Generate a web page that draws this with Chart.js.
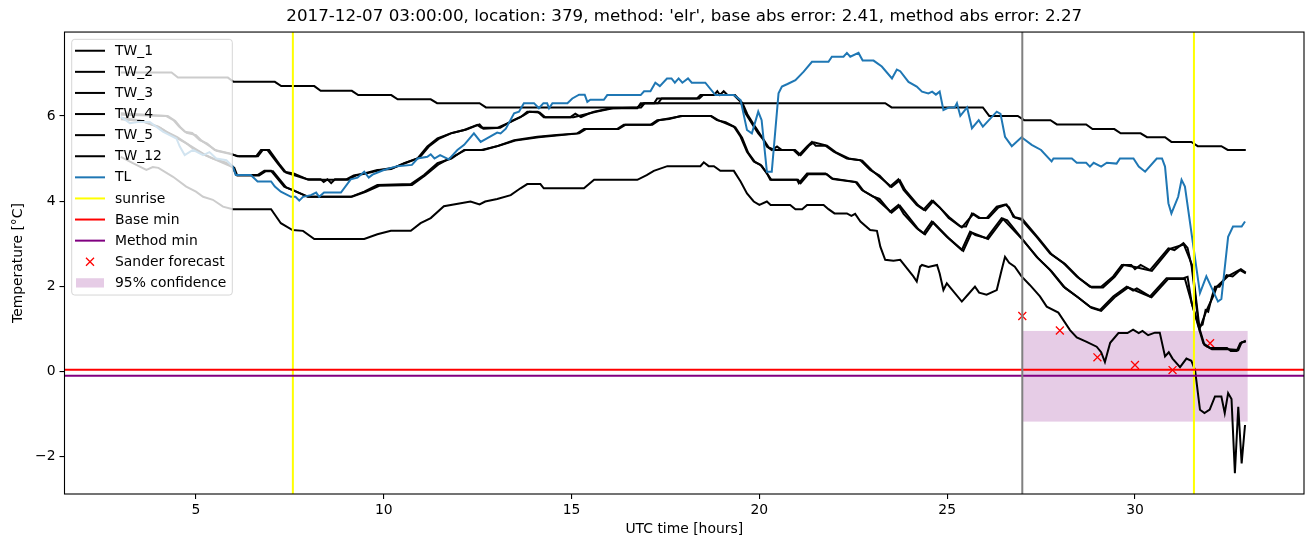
<!DOCTYPE html>
<html>
<head>
<meta charset="utf-8">
<script src="https://cdn.jsdelivr.net/npm/chart.js@4.4.1/dist/chart.umd.min.js"></script>
<style>
  html, body { margin: 0; padding: 0; background: #fff; }
  #wrap { width: 1313px; height: 547px; }
</style>
</head>
<body>
<div id="wrap"><canvas id="tempChart" width="1313" height="547"></canvas></div>
<script>
// Temperature forecast chart

// Axes
const xRange = [1.5, 34.5];
const yRange = [-2.88, 7.97];
const xTicks = [5, 10, 15, 20, 25, 30];
const yTicks = [-2, 0, 2, 4, 6];

// TW_1 / TW_2 (upper middle pair)
const tw1Hours = [3.0, 4.2, 4.4, 4.55, 4.7, 4.9, 5.1, 5.3, 5.5, 5.9, 6.1, 6.6, 6.73, 6.9, 7.17, 7.35, 7.6, 7.97, 8.32, 8.4, 8.5, 8.6, 8.7, 9.0, 9.2, 9.48, 9.83, 10.2, 10.54, 10.9, 11.16, 11.43, 11.78, 12.14, 12.49, 12.6, 13.02, 13.38, 13.64, 13.82, 14.1, 14.26, 14.97, 15.1, 15.25, 15.45, 15.6, 16.04, 16.75, 16.84, 17.2, 17.28, 18.34, 18.43, 18.79, 18.88, 18.95, 19.05, 19.15, 19.32, 19.5, 19.63, 19.85, 19.97, 20.1, 20.2, 20.33, 20.47, 20.6, 20.91, 21.05, 21.27, 21.4, 21.5, 21.76, 21.98, 22.33, 22.69, 22.95, 23.2, 23.48, 23.7, 23.84, 24.19, 24.37, 24.59, 24.8, 25.04, 25.35, 25.5, 25.66, 25.84, 26.05, 26.32, 26.54, 26.65, 26.76, 26.98, 27.38, 27.74, 28.1, 28.45, 28.8, 29.1, 29.42, 29.65, 29.9, 30.0, 30.15, 30.4, 30.89, 31.05, 31.29, 31.4, 31.51, 31.6, 31.7, 31.8, 31.88, 31.95, 32.05, 32.13, 32.25, 32.44, 32.6, 32.8, 32.95];
const tw1Temps = [6.06, 6.0, 5.9, 5.75, 5.63, 5.6, 5.43, 5.35, 5.2, 5.12, 5.05, 5.05, 5.2, 5.2, 4.89, 4.69, 4.65, 4.51, 4.51, 4.45, 4.51, 4.42, 4.51, 4.51, 4.6, 4.65, 4.73, 4.75, 4.89, 5.0, 5.28, 5.47, 5.59, 5.67, 5.79, 5.72, 5.72, 5.86, 5.97, 6.1, 6.1, 5.97, 5.97, 6.05, 5.97, 6.05, 6.1, 6.18, 6.18, 6.3, 6.3, 6.41, 6.41, 6.49, 6.49, 6.58, 6.49, 6.58, 6.49, 6.49, 6.33, 6.06, 5.75, 5.59, 5.45, 5.28, 5.2, 5.28, 5.2, 5.2, 5.08, 5.28, 5.39, 5.3, 5.3, 5.16, 5.0, 4.96, 4.73, 4.6, 4.34, 4.51, 4.26, 3.91, 3.8, 4.01, 3.85, 3.6, 3.4, 3.4, 3.71, 3.6, 3.6, 3.87, 3.92, 3.85, 3.63, 3.56, 3.16, 2.77, 2.54, 2.23, 1.99, 1.99, 2.23, 2.5, 2.5, 2.4, 2.5, 2.38, 2.89, 2.85, 3.01, 2.9, 2.46, 1.8, 1.05, 1.1, 1.44, 1.4, 1.76, 1.99, 1.99, 2.26, 2.23, 2.38, 2.3];
const tw2Hours = [3.0, 4.25, 4.45, 4.6, 4.75, 5.0, 5.15, 5.55, 5.95, 6.15, 6.65, 6.78, 6.95, 7.22, 7.4, 8.0, 8.35, 8.55, 9.05, 9.25, 9.55, 9.9, 10.25, 10.6, 10.95, 11.2, 11.48, 11.82, 12.2, 12.55, 12.65, 13.1, 13.45, 13.7, 13.88, 14.15, 14.3, 15.05, 15.65, 16.1, 16.85, 16.95, 17.3, 17.4, 18.4, 18.5, 19.35, 19.55, 19.68, 19.9, 20.02, 20.25, 20.4, 20.95, 21.1, 21.32, 21.45, 21.8, 22.03, 22.38, 22.74, 23.0, 23.52, 23.74, 23.88, 24.23, 24.42, 24.63, 25.08, 25.39, 25.7, 25.88, 26.1, 26.36, 26.58, 26.8, 27.0, 27.42, 27.78, 28.14, 28.5, 28.85, 29.15, 29.46, 29.7, 30.0, 30.45, 30.93, 31.3, 31.52, 31.72, 31.9, 32.1, 32.18, 32.48, 32.82, 32.95];
const tw2Temps = [6.03, 6.0, 5.88, 5.72, 5.6, 5.55, 5.42, 5.18, 5.1, 5.05, 5.05, 5.2, 5.2, 4.87, 4.67, 4.5, 4.5, 4.5, 4.5, 4.6, 4.65, 4.73, 4.78, 4.9, 5.02, 5.28, 5.47, 5.6, 5.68, 5.8, 5.7, 5.72, 5.9, 6.0, 6.1, 6.08, 5.97, 5.97, 6.1, 6.18, 6.2, 6.3, 6.3, 6.41, 6.41, 6.49, 6.49, 6.3, 6.04, 5.73, 5.57, 5.26, 5.2, 5.2, 5.08, 5.3, 5.38, 5.3, 5.15, 5.0, 4.95, 4.72, 4.33, 4.49, 4.26, 3.9, 3.78, 4.0, 3.6, 3.38, 3.7, 3.6, 3.6, 3.85, 3.92, 3.62, 3.58, 3.14, 2.75, 2.52, 2.2, 1.97, 1.97, 2.22, 2.5, 2.45, 2.36, 2.88, 2.98, 2.5, 1.0, 1.42, 1.8, 1.99, 2.24, 2.4, 2.32];

// TW_3 / TW_4 (lower middle pair)
const tw3Hours = [3.0, 3.5, 4.0, 4.21, 4.5, 4.74, 4.9, 5.2, 5.45, 5.8, 5.98, 6.07, 6.64, 6.82, 7.0, 7.35, 7.6, 7.97, 9.12, 9.48, 9.83, 10.72, 11.07, 11.43, 11.8, 12.14, 12.6, 13.02, 13.47, 14.09, 14.6, 15.15, 15.33, 16.21, 16.39, 17.1, 17.28, 17.6, 17.9, 18.7, 18.87, 19.1, 19.32, 19.5, 19.67, 19.85, 20.03, 20.2, 20.29, 21.0, 21.05, 21.27, 21.76, 21.93, 22.33, 22.56, 22.73, 23.04, 23.2, 23.48, 23.7, 23.84, 24.19, 24.37, 24.59, 24.99, 25.39, 25.61, 25.75, 26.05, 26.45, 26.6, 26.98, 27.38, 27.74, 28.1, 28.45, 28.8, 29.07, 29.42, 29.78, 29.95, 30.05, 30.4, 30.84, 31.29, 31.4, 31.51, 31.69, 31.82, 32.0, 32.45, 32.55, 32.71, 32.8, 32.95];
const tw3Temps = [5.95, 5.9, 5.75, 5.63, 5.5, 5.36, 5.25, 5.1, 5.0, 4.9, 4.81, 4.61, 4.61, 4.71, 4.71, 4.34, 4.25, 4.1, 4.1, 4.22, 4.38, 4.4, 4.61, 4.89, 5.0, 5.2, 5.2, 5.29, 5.43, 5.51, 5.55, 5.59, 5.69, 5.69, 5.79, 5.79, 5.9, 5.93, 6.0, 6.0, 5.9, 5.85, 5.75, 5.51, 5.16, 4.93, 4.85, 4.65, 4.5, 4.5, 4.42, 4.65, 4.65, 4.53, 4.48, 4.45, 4.26, 4.1, 4.05, 3.75, 3.91, 3.7, 3.36, 3.24, 3.52, 3.16, 2.85, 3.28, 3.2, 3.13, 3.6, 3.55, 3.13, 2.69, 2.38, 1.99, 1.76, 1.52, 1.44, 1.76, 1.99, 1.9, 1.95, 1.76, 2.19, 2.19, 2.22, 1.6, 1.05, 0.66, 0.55, 0.55, 0.48, 0.48, 0.66, 0.72];
const tw4Hours = [3.0, 3.55, 4.05, 4.25, 4.78, 5.25, 5.5, 6.02, 6.1, 6.68, 6.86, 7.05, 7.4, 8.0, 9.15, 9.52, 9.88, 10.75, 11.1, 11.47, 12.18, 12.65, 13.06, 13.5, 14.12, 15.2, 15.38, 16.25, 16.43, 17.15, 17.33, 17.95, 18.72, 18.9, 19.36, 19.54, 19.7, 19.88, 20.06, 20.32, 21.03, 21.1, 21.3, 21.8, 21.96, 22.6, 22.77, 23.08, 23.52, 23.74, 24.23, 24.41, 24.63, 25.03, 25.43, 25.65, 26.09, 26.49, 27.0, 27.42, 27.78, 28.14, 28.5, 28.84, 29.1, 29.46, 29.82, 30.44, 30.88, 31.33, 31.53, 31.72, 31.85, 32.05, 32.5, 32.75, 32.84, 32.95];
const tw4Temps = [5.92, 5.88, 5.72, 5.6, 5.34, 5.08, 4.98, 4.78, 4.6, 4.6, 4.7, 4.7, 4.32, 4.1, 4.1, 4.22, 4.36, 4.38, 4.6, 4.87, 5.2, 5.2, 5.3, 5.42, 5.5, 5.59, 5.69, 5.69, 5.79, 5.79, 5.9, 6.0, 6.0, 5.9, 5.73, 5.49, 5.14, 4.92, 4.83, 4.5, 4.5, 4.42, 4.63, 4.63, 4.52, 4.44, 4.24, 4.08, 3.73, 3.89, 3.34, 3.22, 3.5, 3.14, 2.83, 3.26, 3.11, 3.58, 3.1, 2.66, 2.35, 1.96, 1.73, 1.49, 1.42, 1.74, 1.97, 1.74, 2.17, 2.17, 1.55, 1.0, 0.62, 0.52, 0.52, 0.5, 0.68, 0.7];

// TW_5 (lowest)
const tw5Hours = [3.0, 3.32, 3.68, 3.85, 4.0, 4.39, 4.74, 5.0, 5.19, 5.45, 5.72, 5.98, 7.0, 7.26, 7.57, 7.85, 8.15, 9.48, 9.83, 10.19, 10.72, 10.98, 11.25, 11.6, 12.31, 12.55, 12.7, 13.02, 13.38, 13.64, 13.82, 14.17, 14.26, 15.33, 15.6, 16.75, 17.0, 17.19, 17.55, 18.43, 18.52, 18.65, 18.79, 18.96, 19.32, 19.5, 19.67, 19.85, 20.0, 20.2, 20.3, 20.82, 20.96, 21.14, 21.27, 21.71, 21.84, 22.0, 22.33, 22.45, 22.55, 22.69, 22.95, 23.13, 23.22, 23.35, 23.57, 23.75, 24.1, 24.19, 24.28, 24.33, 24.5, 24.73, 24.8, 24.9, 24.99, 25.39, 25.55, 25.74, 25.85, 26.05, 26.32, 26.45, 26.54, 26.65, 26.8, 26.98, 27.2, 27.47, 27.65, 27.96, 28.27, 28.45, 28.7, 28.98, 29.1, 29.2, 29.27, 29.34, 29.56, 29.8, 29.95, 30.1, 30.2, 30.35, 30.53, 30.66, 30.8, 30.9, 31.0, 31.2, 31.37, 31.5, 31.6, 31.73, 31.85, 31.99, 32.13, 32.3, 32.39, 32.48, 32.57, 32.66, 32.75, 32.84, 32.93];
const tw5Temps = [5.04, 4.89, 4.73, 4.8, 4.78, 4.57, 4.34, 4.22, 4.1, 4.03, 3.87, 3.81, 3.81, 3.48, 3.32, 3.3, 3.11, 3.11, 3.22, 3.3, 3.3, 3.48, 3.6, 3.88, 3.99, 3.92, 3.99, 4.05, 4.14, 4.3, 4.4, 4.4, 4.3, 4.3, 4.5, 4.5, 4.61, 4.71, 4.82, 4.82, 4.91, 4.82, 4.82, 4.71, 4.71, 4.46, 4.18, 3.99, 3.91, 3.99, 3.91, 3.91, 3.81, 3.81, 3.91, 3.91, 3.81, 3.71, 3.71, 3.65, 3.7, 3.52, 3.32, 3.3, 2.93, 2.62, 2.6, 2.62, 2.23, 2.11, 2.46, 2.5, 2.45, 2.5, 2.3, 1.91, 2.07, 1.64, 1.8, 1.99, 1.85, 1.8, 1.91, 2.38, 2.69, 2.55, 2.46, 2.23, 2.03, 1.76, 1.52, 1.38, 0.97, 0.8, 0.7, 0.58, 0.45, 0.22, 0.45, 0.67, 0.9, 0.9, 0.98, 0.9, 0.95, 0.85, 0.91, 0.91, 0.35, 0.45, 0.3, 0.1, 0.3, 0.25, 0.03, -0.9, -0.98, -0.9, -0.59, -0.59, -0.98, -0.51, -0.65, -2.39, -0.83, -2.16, -1.26];

// TW_12 (slow, top)
const tw12Hours = [3.0, 4.35, 4.52, 5.85, 6.0, 7.1, 7.27, 8.15, 8.32, 9.15, 9.32, 10.2, 10.37, 11.25, 11.42, 12.55, 12.72, 16.75, 16.92, 23.35, 23.52, 25.95, 26.12, 26.88, 27.05, 27.75, 27.92, 28.7, 28.87, 29.45, 29.62, 30.15, 30.32, 30.8, 30.97, 31.5, 31.67, 32.3, 32.47, 32.95];
const tw12Temps = [7.02, 7.02, 6.9, 6.9, 6.8, 6.8, 6.7, 6.7, 6.59, 6.59, 6.49, 6.49, 6.39, 6.39, 6.3, 6.3, 6.2, 6.2, 6.3, 6.3, 6.2, 6.2, 6.0, 6.0, 5.9, 5.9, 5.8, 5.8, 5.69, 5.69, 5.59, 5.59, 5.5, 5.5, 5.39, 5.39, 5.29, 5.29, 5.2, 5.2];

// TL (air temperature)
const tlHours = [3.0, 3.24, 3.5, 3.77, 4.12, 4.3, 4.48, 4.57, 4.7, 4.92, 5.19, 5.36, 5.54, 5.81, 5.98, 6.06, 6.46, 6.64, 7.0, 7.1, 7.26, 7.53, 7.65, 7.75, 7.85, 8.06, 8.2, 8.28, 8.41, 8.86, 9.12, 9.3, 9.48, 9.6, 9.7, 10.0, 10.36, 10.75, 10.9, 11.16, 11.25, 11.35, 11.5, 11.73, 11.96, 12.14, 12.4, 12.58, 12.7, 13.02, 13.11, 13.25, 13.47, 13.6, 13.73, 14.0, 14.13, 14.25, 14.35, 14.4, 14.49, 14.89, 15.02, 15.2, 15.35, 15.42, 15.5, 15.86, 15.95, 16.84, 16.93, 17.1, 17.23, 17.35, 17.54, 17.66, 17.75, 17.85, 17.95, 18.1, 18.2, 18.56, 18.83, 19.32, 19.5, 19.67, 19.8, 19.97, 20.06, 20.2, 20.33, 20.51, 20.6, 20.75, 20.96, 21.18, 21.4, 21.84, 21.93, 22.24, 22.33, 22.42, 22.64, 22.75, 23.04, 23.26, 23.53, 23.66, 23.75, 23.97, 24.19, 24.33, 24.5, 24.6, 24.7, 24.8, 24.9, 25.05, 25.2, 25.26, 25.35, 25.53, 25.66, 25.84, 25.95, 26.32, 26.42, 26.54, 26.72, 26.98, 27.25, 27.5, 27.78, 27.83, 28.32, 28.45, 28.7, 28.8, 28.9, 29.1, 29.25, 29.51, 29.6, 29.96, 30.1, 30.27, 30.58, 30.72, 30.8, 30.89, 30.97, 31.15, 31.24, 31.33, 31.73, 31.9, 32.21, 32.3, 32.48, 32.61, 32.84, 32.93];
const tlTemps = [5.98, 5.83, 5.86, 5.86, 5.63, 5.55, 5.47, 5.28, 5.08, 5.2, 5.08, 5.15, 5.0, 4.96, 4.81, 4.61, 4.61, 4.46, 4.46, 4.34, 4.22, 4.1, 4.1, 4.01, 4.1, 4.14, 4.2, 4.1, 4.2, 4.2, 4.51, 4.55, 4.69, 4.55, 4.62, 4.73, 4.82, 4.85, 5.0, 5.04, 5.1, 5.0, 5.08, 4.98, 5.2, 5.32, 5.59, 5.39, 5.45, 5.61, 5.59, 5.7, 6.06, 6.1, 6.3, 6.3, 6.18, 6.3, 6.3, 6.18, 6.3, 6.3, 6.41, 6.5, 6.5, 6.33, 6.38, 6.38, 6.49, 6.49, 6.58, 6.58, 6.78, 6.7, 6.88, 6.88, 6.78, 6.88, 6.78, 6.88, 6.78, 6.78, 6.49, 6.49, 6.37, 5.67, 5.59, 6.1, 5.9, 4.69, 4.69, 6.53, 6.69, 6.75, 6.84, 7.04, 7.27, 7.27, 7.39, 7.39, 7.48, 7.39, 7.48, 7.3, 7.3, 7.16, 6.88, 7.09, 7.05, 6.8, 6.69, 6.57, 6.53, 6.57, 6.5, 6.57, 6.14, 6.2, 6.2, 6.3, 6.0, 6.2, 5.71, 5.9, 5.75, 6.1, 6.05, 5.51, 5.29, 5.5, 5.32, 5.2, 4.93, 5.0, 5.0, 4.9, 4.9, 4.81, 4.9, 4.81, 4.9, 4.88, 5.0, 5.0, 4.81, 4.69, 5.0, 5.0, 4.81, 3.95, 3.71, 4.1, 4.5, 4.34, 1.84, 2.23, 1.64, 1.7, 3.16, 3.4, 3.4, 3.52];

// Sander forecast and its 95% band
const forecastHours = [27, 28, 29, 30, 31, 32];
const forecastTemps = [1.3, 0.96, 0.33, 0.15, 0.03, 0.66];
const confidenceHours = [27, 33];
const confidenceTemps = [-1.18, 0.95];

// Reference lines
const sunriseHours = [7.58, 31.57];
const forecastStartHour = [27];
const baseMin = 0.04;
const methodMin = -0.1;

const blue = '#1f77b4';

function toPoints(hours, temps) {
    return hours.map((h, i) => ({ x: h, y: temps[i] }));
}

const twSeries = [
    { label: 'TW_1', hours: tw1Hours, temps: tw1Temps },
    { label: 'TW_2', hours: tw2Hours, temps: tw2Temps },
    { label: 'TW_3', hours: tw3Hours, temps: tw3Temps },
    { label: 'TW_4', hours: tw4Hours, temps: tw4Temps },
    { label: 'TW_5', hours: tw5Hours, temps: tw5Temps },
    { label: 'TW_12', hours: tw12Hours, temps: tw12Temps }
];

const datasets = twSeries.map(s => ({
    label: s.label,
    data: toPoints(s.hours, s.temps),
    borderColor: '#000000',
    borderWidth: 2,
    pointRadius: 0,
    tension: 0,
    order: 10
}));

datasets.push({
    label: 'TL',
    data: toPoints(tlHours, tlTemps),
    borderColor: blue,
    borderWidth: 2,
    pointRadius: 0,
    tension: 0,
    order: 5
});

datasets.push({
    label: 'Sander forecast',
    data: toPoints(forecastHours, forecastTemps),
    showLine: false,
    pointStyle: 'crossRot',
    pointRadius: 5.6,
    pointBorderColor: '#ff0000',
    pointBorderWidth: 1.3,
    borderColor: '#ff0000',
    order: 12
});

// Shaded confidence band, under the lines
const bandPlugin = {
    id: 'band',
    beforeDatasetsDraw(chart) {
        const { ctx, chartArea, scales: { x, y } } = chart;
        const x0 = x.getPixelForValue(confidenceHours[0]);
        const x1 = x.getPixelForValue(confidenceHours[1]);
        const y0 = y.getPixelForValue(confidenceTemps[1]);
        const y1 = y.getPixelForValue(confidenceTemps[0]);
        ctx.save();
        ctx.fillStyle = 'rgba(128, 0, 128, 0.2)';
        ctx.fillRect(x0, y0, x1 - x0, y1 - y0);
        ctx.restore();
    }
};

// Sunrise, minima, forecast start, and the axes frame
const refLinesPlugin = {
    id: 'refLines',
    afterDatasetsDraw(chart) {
        const { ctx, chartArea: a, scales: { x, y } } = chart;
        ctx.save();
        ctx.beginPath();
        ctx.rect(a.left, a.top, a.right - a.left, a.bottom - a.top);
        ctx.clip();

        function vline(v, color) {
            const px = x.getPixelForValue(v);
            ctx.strokeStyle = color;
            ctx.lineWidth = 2;
            ctx.beginPath();
            ctx.moveTo(px, a.top);
            ctx.lineTo(px, a.bottom);
            ctx.stroke();
        }
        function hline(v, color) {
            const py = y.getPixelForValue(v);
            ctx.strokeStyle = color;
            ctx.lineWidth = 2;
            ctx.beginPath();
            ctx.moveTo(a.left, py);
            ctx.lineTo(a.right, py);
            ctx.stroke();
        }

        sunriseHours.forEach(h => vline(h, '#ffff00'));
        hline(baseMin, '#ff0000');
        hline(methodMin, '#800080');
        forecastStartHour.forEach(h => vline(h, '#808080'));
        ctx.restore();

        // frame
        ctx.save();
        ctx.strokeStyle = '#000000';
        ctx.lineWidth = 1.1;
        ctx.strokeRect(a.left, a.top, a.right - a.left, a.bottom - a.top);
        ctx.restore();
    }
};

// Legend inside the axes, top left
const legendItems = [
    { label: 'TW_1', kind: 'line', color: '#000000' },
    { label: 'TW_2', kind: 'line', color: '#000000' },
    { label: 'TW_3', kind: 'line', color: '#000000' },
    { label: 'TW_4', kind: 'line', color: '#000000' },
    { label: 'TW_5', kind: 'line', color: '#000000' },
    { label: 'TW_12', kind: 'line', color: '#000000' },
    { label: 'TL', kind: 'line', color: blue },
    { label: 'sunrise', kind: 'line', color: '#ffff00' },
    { label: 'Base min', kind: 'line', color: '#ff0000' },
    { label: 'Method min', kind: 'line', color: '#800080' },
    { label: 'Sander forecast', kind: 'marker', color: '#ff0000' },
    { label: '95% confidence', kind: 'patch', color: 'rgba(128, 0, 128, 0.2)' }
];

const boxLegendPlugin = {
    id: 'boxLegend',
    afterDraw(chart) {
        const { ctx, chartArea: a } = chart;
        const left = a.left + 7.2;
        const top = a.top + 7.3;
        const width = 160.6;
        const rowH = 21.1;
        const height = 255.7;
        ctx.save();
        ctx.beginPath();
        ctx.roundRect(left, top, width, height, 3);
        ctx.fillStyle = 'rgba(255, 255, 255, 0.8)';
        ctx.fill();
        ctx.strokeStyle = 'rgba(204, 204, 204, 0.8)';
        ctx.lineWidth = 1;
        ctx.stroke();

        ctx.font = '13.9px "DejaVu Sans"';
        ctx.textBaseline = 'middle';
        ctx.textAlign = 'left';
        legendItems.forEach((item, i) => {
            const cy = top + 11.4 + i * rowH;
            const hx0 = left + 3.3, hx1 = left + 33.3;
            if (item.kind === 'line') {
                ctx.strokeStyle = item.color;
                ctx.lineWidth = 2;
                ctx.beginPath();
                ctx.moveTo(hx0, cy);
                ctx.lineTo(hx1, cy);
                ctx.stroke();
            } else if (item.kind === 'marker') {
                const cx = (hx0 + hx1) / 2, r = 4;
                ctx.strokeStyle = item.color;
                ctx.lineWidth = 1.3;
                ctx.beginPath();
                ctx.moveTo(cx - r, cy - r);
                ctx.lineTo(cx + r, cy + r);
                ctx.moveTo(cx - r, cy + r);
                ctx.lineTo(cx + r, cy - r);
                ctx.stroke();
            } else {
                ctx.fillStyle = item.color;
                ctx.fillRect(hx0 + 1, cy - 4.6, 28, 9.3);
            }
            ctx.fillStyle = '#000000';
            ctx.fillText(item.label, left + 43.3, cy + 0.5);
        });
        ctx.restore();
    }
};

function formatTick(v) {
    return v < 0 ? '\u2212' + Math.abs(v) : String(v);
}

Chart.defaults.font.family = '"DejaVu Sans", sans-serif';
Chart.defaults.color = '#000000';

const tempChart = new Chart(document.getElementById('tempChart'), {
    type: 'line',
    data: { datasets: datasets },
    options: {
        responsive: false,
        animation: false,
        devicePixelRatio: 1,
        layout: { padding: { left: 0, right: 9, top: 0, bottom: 0 } },
        plugins: {
            legend: { display: false },
            tooltip: { enabled: false },
            title: {
                display: true,
                fullSize: false,
                text: "2017-12-07 03:00:00, location: 379, method: 'elr', base abs error: 2.41, method abs error: 2.27",
                color: '#000000',
                font: { size: 16.7, weight: 'normal' },
                padding: { top: 7, bottom: 5 }
            }
        },
        scales: {
            x: {
                type: 'linear',
                min: xRange[0],
                max: xRange[1],
                afterBuildTicks: scale => { scale.ticks = xTicks.map(v => ({ value: v })); },
                afterFit: scale => { scale.height = 53; },
                grid: { drawOnChartArea: false, drawTicks: true, tickLength: 5, color: '#000000', lineWidth: 1.1 },
                border: { display: false },
                ticks: { color: '#000000', font: { size: 13.9 }, padding: 3, maxRotation: 0, autoSkip: false },
                title: { display: true, text: 'UTC time [hours]', color: '#000000', font: { size: 13.9 }, padding: { top: 0, bottom: 9 } }
            },
            y: {
                type: 'linear',
                min: yRange[0],
                max: yRange[1],
                afterBuildTicks: scale => { scale.ticks = yTicks.map(v => ({ value: v })); },
                afterFit: scale => { scale.width = 64.5; },
                grid: { drawOnChartArea: false, drawTicks: true, tickLength: 5, color: '#000000', lineWidth: 1.1 },
                border: { display: false },
                ticks: { color: '#000000', font: { size: 13.9 }, padding: 4, callback: formatTick },
                title: { display: true, text: 'Temperature [\u00b0C]', color: '#000000', font: { size: 13.9 }, padding: { top: 10, bottom: 0 } }
            }
        }
    },
    plugins: [bandPlugin, refLinesPlugin, boxLegendPlugin]
});
</script>
</body>
</html>
